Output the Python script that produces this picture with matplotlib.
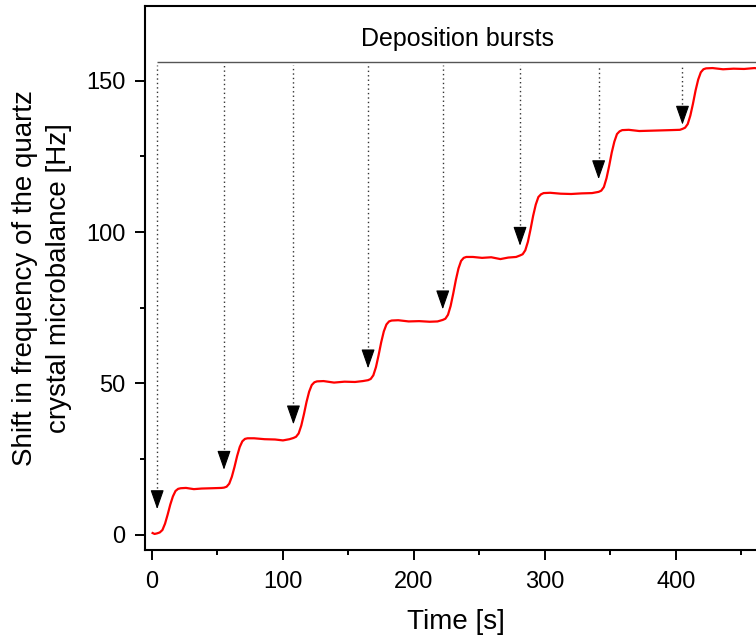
import matplotlib
matplotlib.use("Agg")
import matplotlib.pyplot as plt
from matplotlib.ticker import MultipleLocator

plt.rcParams['font.family'] = ['Liberation Sans', 'DejaVu Sans']

# QCM frequency shift, time [s] / shift [Hz]
time_s = [0.5, 2, 4, 6, 8, 10, 12, 14, 16, 18, 20, 22, 26, 32, 38, 46, 53, 55,
          57, 59, 61, 63, 65, 67, 69, 71, 73, 78, 86, 94, 100, 105, 108,
          110, 112, 114, 116, 118, 120, 122, 124, 126, 131, 139, 147, 155, 161, 165,
          167, 169, 171, 173, 175, 177, 179, 181, 183, 188, 196, 204, 212, 218, 222,
          224, 226, 228, 230, 232, 234, 236, 238, 240, 245, 252, 259, 266, 272, 278, 281,
          283, 285, 287, 289, 291, 293, 295, 297, 299, 304, 312, 320, 328, 336, 341,
          343, 345, 347, 349, 351, 353, 355, 357, 359, 364, 372, 380, 388, 396, 403, 405,
          407, 409, 411, 413, 415, 417, 419, 421, 423, 428, 436, 444, 452, 460, 466]
shift_hz = [0.6, 0.3, 0.5, 0.8, 1.6, 3.7, 6.7, 10.0, 12.7, 14.5, 15.2, 15.4, 15.5, 15.1, 15.3, 15.4, 15.5, 15.6,
            15.9, 16.9, 19.2, 22.4, 26.0, 29.0, 30.9, 31.7, 31.9, 31.9, 31.6, 31.5, 31.2, 31.6, 32.0,
            32.4, 33.5, 36.1, 39.8, 43.9, 47.3, 49.5, 50.4, 50.7, 50.8, 50.3, 50.6, 50.5, 50.8, 51.1,
            51.5, 52.7, 55.4, 59.3, 63.6, 67.2, 69.5, 70.5, 70.8, 70.9, 70.5, 70.6, 70.4, 70.5, 71.0,
            71.4, 72.7, 75.6, 79.7, 84.2, 88.0, 90.5, 91.5, 91.8, 91.8, 91.5, 91.7, 91.1, 91.6, 91.8, 92.3,
            92.7, 94.0, 96.8, 100.9, 105.4, 109.1, 111.6, 112.5, 112.9, 113.0, 112.7, 112.6, 112.8, 112.9, 113.3,
            113.7, 114.9, 117.8, 121.8, 126.3, 129.9, 132.4, 133.3, 133.7, 133.8, 133.4, 133.5, 133.6, 133.7, 133.8, 134.1,
            134.5, 135.7, 138.5, 142.4, 146.8, 150.4, 152.8, 153.8, 154.1, 154.2, 153.8, 154.0, 153.9, 154.2, 153.9]

# times of the deposition bursts and where each arrow ends
burst_t = [4, 55, 108, 165, 222, 281, 341, 405]
burst_tip = [8.5, 21.5, 36.5, 55, 74.5, 95.5, 117.5, 135.5]
bar_level = 156.2

fig = plt.figure(figsize=(7.56, 6.39), dpi=100)
ax = fig.add_axes([0.1918, 0.1393, 0.8409, 0.8513])

ax.plot(time_s, shift_hz, color='#ff0000', lw=1.6, zorder=3)

ax.hlines(bar_level, burst_t[0], 480, color='#555555', lw=1.0)
ax.text(233, 163.8, 'Deposition bursts', ha='center', va='center', fontsize=18)

for t, tip in zip(burst_t, burst_tip):
    ax.vlines(t, tip + 4, bar_level - 1.0, color='#333333', lw=1.0, linestyles=(0, (1, 2.2)))
    ax.annotate('', xy=(t, tip), xytext=(t, tip + 5),
                arrowprops=dict(arrowstyle='-|>,head_length=1.2,head_width=0.42',
                                color='black', lw=0.8, shrinkA=0, shrinkB=0))

ax.set_xlim(-5.3, 480)
ax.set_ylim(-5, 174.7)
ax.xaxis.set_major_locator(MultipleLocator(100))
ax.xaxis.set_minor_locator(MultipleLocator(50))
ax.yaxis.set_major_locator(MultipleLocator(50))
ax.yaxis.set_minor_locator(MultipleLocator(25))
ax.tick_params(which='major', direction='out', length=7, width=1.4, labelsize=17)
ax.tick_params(axis='x', which='major', pad=8)
ax.tick_params(axis='y', which='major', pad=7)
ax.tick_params(which='minor', direction='out', length=3.5, width=1.4)
for s in ax.spines.values():
    s.set_linewidth(1.5)

ax.set_xlabel('Time [s]', fontsize=20)
ax.xaxis.set_label_coords(0.489, -0.108)
ax.set_ylabel('Shift in frequency of the quartz\ncrystal microbalance [Hz]', fontsize=20, linespacing=1.4)
ax.yaxis.set_label_coords(-0.115, 0.5)

fig.savefig('out.png', dpi=100)
